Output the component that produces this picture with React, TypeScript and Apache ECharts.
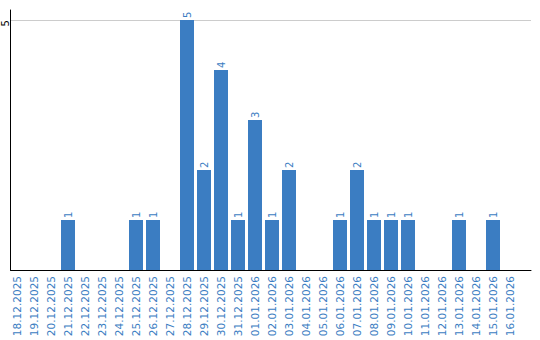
import React, { useEffect, useRef } from "react";
import * as echarts from "echarts";

const categories = [
  "18.12.2025", "19.12.2025", "20.12.2025", "21.12.2025", "22.12.2025",
  "23.12.2025", "24.12.2025", "25.12.2025", "26.12.2025", "27.12.2025",
  "28.12.2025", "29.12.2025", "30.12.2025", "31.12.2025", "01.01.2026",
  "02.01.2026", "03.01.2026", "04.01.2026", "05.01.2026", "06.01.2026",
  "07.01.2026", "08.01.2026", "09.01.2026", "10.01.2026", "11.01.2026",
  "12.01.2026", "13.01.2026", "14.01.2026", "15.01.2026", "16.01.2026",
];
const values = [
  0, 0, 0, 1, 0, 0, 0, 1, 1, 0,
  5, 2, 4, 1, 3, 1, 2, 0, 0, 1,
  2, 1, 1, 1, 0, 0, 1, 0, 1, 0,
];
const yMax = 5;

const BLUE = "#3b7dc2";
const FONT = "DejaVu Sans";

export default function App() {
  const ref = useRef<HTMLDivElement>(null);
  useEffect(() => {
    if (!ref.current) return;
    const chart = echarts.init(ref.current, null, { renderer: "svg" });
    chart.setOption({
      animation: false,
      grid: [
        { left: 10.5, right: 9, top: 10, bottom: 70 },
        { left: 10.5, right: 9, top: 20, bottom: 70 },
        { left: 8.5, width: 510, top: 20, bottom: 70 },
      ],
      xAxis: [
        {
          gridIndex: 0, type: "value", min: 0, max: 1, z: 10,
          axisLine: { show: true, lineStyle: { color: "#000", width: 1 } },
          axisTick: { show: false }, axisLabel: { show: false }, splitLine: { show: false },
        },
        {
          gridIndex: 1, type: "value", min: 0, max: 1, show: false,
        },
        {
          gridIndex: 2, type: "category", data: categories,
          axisLine: { show: false }, axisTick: { show: false },
          axisLabel: {
            interval: 0, rotate: 90, margin: 6, color: BLUE,
            fontFamily: FONT, fontSize: 10.5,
          },
        },
      ],
      yAxis: [
        {
          gridIndex: 0, type: "value", min: 0, max: 1, z: 10,
          axisLine: { show: true, lineStyle: { color: "#000", width: 1 } },
          axisTick: { show: false }, axisLabel: { show: false }, splitLine: { show: false },
        },
        {
          gridIndex: 1, type: "value", min: 0, max: yMax, interval: 5,
          axisLine: { show: false }, axisTick: { show: false },
          splitLine: { show: true, lineStyle: { color: "#cccccc", width: 1 } },
          axisLabel: {
            rotate: 90, margin: 6, color: "#000", fontFamily: FONT, fontSize: 10,
            align: "right", verticalAlign: "middle",
            formatter: (v: number) => (v === 0 ? "" : String(v)),
          },
        },
        {
          gridIndex: 2, type: "value", min: 0, max: yMax, show: false,
        },
      ],
      series: [
        {
          type: "bar", xAxisIndex: 2, yAxisIndex: 2, data: values,
          barWidth: 14,
          itemStyle: { color: BLUE },
          label: {
            show: true, position: "top", distance: 2, rotate: 90,
            align: "left", verticalAlign: "middle",
            color: BLUE, fontFamily: FONT, fontSize: 10,
            formatter: (p: any) => (p.value ? String(p.value) : ""),
          },
        },
      ],
    });
    return () => chart.dispose();
  }, []);
  return <div ref={ref} style={{ width: 540, height: 340, position: "absolute", left: 0, top: 0 }} />;
}
